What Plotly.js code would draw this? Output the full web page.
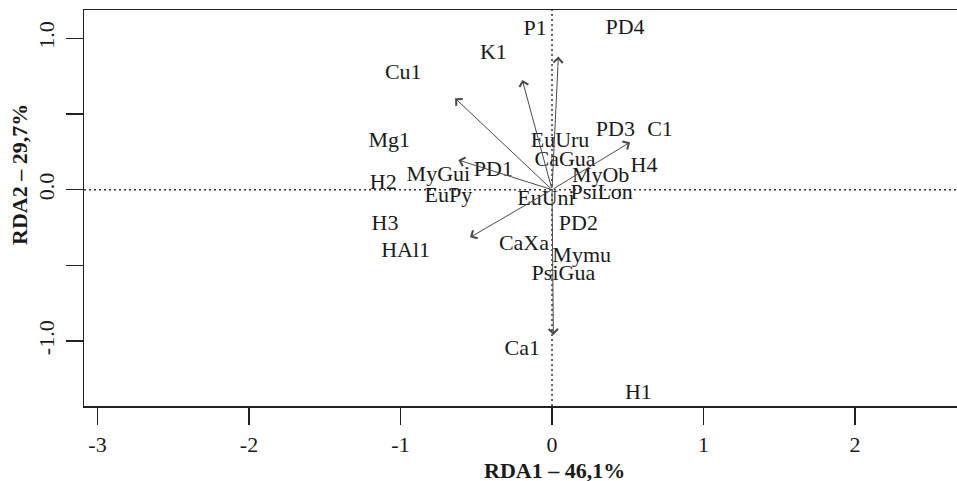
<!DOCTYPE html>
<html>
<head>
<meta charset="utf-8">
<script src="https://cdn.plot.ly/plotly-3.0.1.min.js"></script>
<style>html,body{margin:0;padding:0;background:#fff;}#chart{width:957px;height:481px;}</style>
</head>
<body>
<div id="chart"></div>
<script>
// Site / species labels (RDA scores)
const labels = ["P1","PD4","K1","Cu1","Mg1","PD3","C1","EuUru","CaGua","H4","MyOb","PD1","MyGui","H2","EuPy","PsiLon","EuUni","H3","PD2","HAl1","CaXa","Mymu","PsiGua","Ca1","H1"];
const labelX = [-0.112,0.482,-0.387,-0.982,-1.074,0.418,0.713,0.053,0.086,0.607,0.321,-0.387,-0.750,-1.114,-0.684,0.328,-0.040,-1.102,0.174,-0.966,-0.185,0.196,0.075,-0.196,0.570];
const labelY = [1.055,1.066,0.901,0.769,0.317,0.394,0.394,0.317,0.192,0.152,0.086,0.130,0.091,0.042,-0.042,-0.028,-0.068,-0.233,-0.233,-0.410,-0.365,-0.443,-0.557,-1.059,-1.345];

// Environmental vectors (arrow tips, from origin)
const arrowX = [-0.640,-0.196,0.042,0.515,-0.618,-0.541,0.009];
const arrowY = [0.604,0.725,0.879,0.313,0.196,-0.315,-0.960];

// Axis ticks
const xTicks = [-3,-2,-1,0,1,2];
const xTickText = ["-3","-2","-1","0","1","2"];
const yTicks = [-1,-0.5,0,0.5,1];
const yTickText = ["-1.0","","0.0","","1.0"];

const font = "Liberation Serif, Times New Roman, serif";
const fs = 22;

const traces = [{
  type: "scatter",
  mode: "text",
  x: labelX,
  y: labelY,
  text: labels,
  textposition: "middle center",
  textfont: {family: font, size: fs, color: "#1a1a1a"},
  hoverinfo: "text",
  showlegend: false,
  cliponaxis: false
}];

const annotations = arrowX.map((ax, i) => ({
  x: ax, y: arrowY[i], xref: "x", yref: "y",
  ax: 0, ay: 0, axref: "x", ayref: "y",
  text: "", showarrow: true,
  arrowhead: 4, arrowsize: 1.8, arrowwidth: 1, arrowcolor: "#4a4a4a",
  standoff: 0, startstandoff: 0
}));

annotations.push({
  text: "<b>RDA1 – 46,1%</b>", xref: "paper", yref: "paper",
  x: (554 - 84) / 873, y: -(470 - 406) / 396,
  xanchor: "center", yanchor: "middle", showarrow: false,
  font: {family: font, size: fs, color: "#1a1a1a"}
});
annotations.push({
  text: "<b>RDA2 – 29,7%</b>", xref: "paper", yref: "paper",
  x: -(84 - 20) / 873, y: (406 - 175) / 396,
  xanchor: "center", yanchor: "middle", showarrow: false, textangle: -90,
  font: {family: font, size: fs, color: "#1a1a1a"}
});

const layout = {
  width: 957, height: 481,
  margin: {l: 84, r: 0, t: 10, b: 75},
  paper_bgcolor: "#fff", plot_bgcolor: "#fff",
  showlegend: false,
  font: {family: font, size: fs, color: "#1a1a1a"},
  xaxis: {
    range: [-3.089, 2.673], tickmode: "array", tickvals: xTicks, ticktext: xTickText,
    showgrid: false, zeroline: false, showline: true, mirror: true,
    linecolor: "#222", linewidth: 1.5,
    ticks: "outside", ticklen: 17, tickwidth: 1.5, tickcolor: "#222",
    ticklabelstandoff: 1,
    tickfont: {family: font, size: fs, color: "#1a1a1a"}
  },
  yaxis: {
    range: [-1.429, 1.187], tickmode: "array", tickvals: yTicks, ticktext: yTickText,
    showgrid: false, zeroline: false, showline: true, mirror: false,
    linecolor: "#222", linewidth: 1.5,
    ticks: "outside", ticklen: 17, tickwidth: 1.5, tickcolor: "#222",
    tickangle: -90, ticklabelstandoff: 3,
    tickfont: {family: font, size: fs, color: "#1a1a1a"}
  },
  shapes: [
    {type: "line", xref: "paper", yref: "y", x0: 0, x1: 1, y0: 0, y1: 0,
     line: {color: "#333", width: 1.5, dash: "2px,3px"}},
    {type: "line", xref: "x", yref: "paper", x0: 0, x1: 0, y0: 0, y1: 1,
     line: {color: "#333", width: 1.5, dash: "2px,3px"}}
  ],
  annotations: annotations
};

Plotly.newPlot("chart", traces, layout, {displayModeBar: false, staticPlot: true});
</script>
</body>
</html>
